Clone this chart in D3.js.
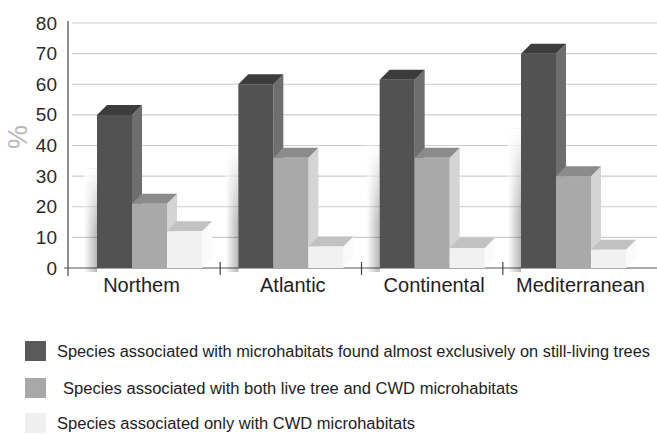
<!DOCTYPE html>
<html>
<head>
<meta charset="utf-8">
<script src="https://cdn.jsdelivr.net/npm/d3@7"></script>
<style>
  html, body { margin: 0; padding: 0; background: #fff; }
  svg { display: block; font-family: "Liberation Sans", Arial, sans-serif; }
</style>
</head>
<body>
<svg id="chart" width="657" height="434"></svg>
<script>
const categories = ["Northern", "Atlantic", "Continental", "Mediterranean"];
const categoryLabels = ["Northem", "Atlantic", "Continental", "Mediterranean"];
const seriesNames = [
  "Species associated with microhabitats found almost exclusively on still-living trees",
  "Species associated with both live tree and CWD microhabitats",
  "Species associated only with CWD microhabitats"
];
const liveTrees = [50, 60, 61.5, 70];
const bothLiveAndCWD = [21, 36, 36, 30];
const onlyCWD = [12, 7, 6.5, 6];
const yTicks = [0, 10, 20, 30, 40, 50, 60, 70, 80];

const seriesValues = [liveTrees, bothLiveAndCWD, onlyCWD];
const seriesKeys = ["live", "both", "cwd"];
const colors = {
  live: { front: "#525252", top: "#3c3c3c", side: "#6e6e6e", legend: "#5a5a5a" },
  both: { front: "#a9a9a9", top: "#8b8b8b", side: "#d4d4d4", legend: "#a8a8a8" },
  cwd:  { front: "#f1f1f1", top: "#c2c2c2", side: "#fbfbfb", legend: "#efefef" }
};
// layout: horizontal nudge of each category label relative to its group centre
const labelNudge = [-10, 0, 0, 5];

const svg = d3.select("#chart");
const defs = svg.append("defs");
const hg = defs.append("linearGradient").attr("id", "shadeH")
  .attr("x1", 0).attr("x2", 1).attr("y1", 0).attr("y2", 0);
hg.append("stop").attr("offset", "0%").attr("stop-color", "#000").attr("stop-opacity", 0);
hg.append("stop").attr("offset", "100%").attr("stop-color", "#000").attr("stop-opacity", 0.28);
const vg = defs.append("linearGradient").attr("id", "shadeV")
  .attr("x1", 0).attr("x2", 0).attr("y1", 0).attr("y2", 1);
vg.append("stop").attr("offset", "0%").attr("stop-color", "#fff").attr("stop-opacity", 1);
vg.append("stop").attr("offset", "100%").attr("stop-color", "#fff").attr("stop-opacity", 0);

const y = d3.scaleLinear().domain([0, 80]).range([268, 23]);
const x0 = d3.scaleBand().domain(categories).range([97, 626]).paddingInner(0.257).paddingOuter(0);
const x1 = d3.scaleBand().domain(seriesKeys).range([0, x0.bandwidth()]).padding(0);
const dx = 10, dy = 10;

// gridlines
svg.append("g").selectAll("line").data(yTicks.filter(t => t > 0)).join("line")
  .attr("x1", 72).attr("x2", 657)
  .attr("y1", d => y(d)).attr("y2", d => y(d))
  .attr("stroke", "#cdcdcd").attr("stroke-width", 1.2);

// y axis
const yAxis = svg.append("g").attr("transform", "translate(68,0)")
  .call(d3.axisLeft(y).tickValues(yTicks).tickSize(0).tickPadding(11));
yAxis.select(".domain").remove();
yAxis.selectAll("text").attr("font-size", 19).attr("fill", "#2a2a2a")
  .attr("font-family", "'Liberation Sans', Arial, sans-serif");
svg.append("line").attr("x1", 68).attr("x2", 68).attr("y1", 21).attr("y2", 276)
  .attr("stroke", "#444").attr("stroke-width", 1.2);

// baseline
svg.append("line").attr("x1", 64).attr("x2", 657).attr("y1", y(0)).attr("y2", y(0))
  .attr("stroke", "#555").attr("stroke-width", 1.2);
// category separator ticks
const sepX = categories.slice(1).map((c, i) => (x0(categories[i]) + x0.bandwidth() + x0(c)) / 2);
svg.append("g").selectAll("line").data(sepX).join("line")
  .attr("x1", d => d).attr("x2", d => d).attr("y1", y(0) - 6).attr("y2", y(0) + 7)
  .attr("stroke", "#444").attr("stroke-width", 1.2);

// y label
svg.append("text").attr("transform", "translate(27,137) rotate(-90)")
  .attr("text-anchor", "middle").attr("font-size", 27).attr("fill", "#b8b8b8").text("%");

// soft shadow to the left of each dark bar (gradient based)
const shadowG = svg.append("g");
categories.forEach((cat, ci) => {
  const v = liveTrees[ci];
  const bx = x0(cat) + x1("live");
  const top = y(v) + (y(0) - y(v)) * 0.35, bot = y(0) + 4;
  shadowG.append("rect").attr("x", bx - 13).attr("y", top).attr("width", 13).attr("height", bot - top)
    .attr("fill", "url(#shadeH)");
  shadowG.append("rect").attr("x", bx - 13).attr("y", top).attr("width", 13).attr("height", (bot - top) * 0.6)
    .attr("fill", "url(#shadeV)");
});

// bars
const groups = svg.append("g").selectAll("g").data(categories).join("g")
  .attr("transform", d => `translate(${x0(d)},0)`);

groups.each(function(cat, ci) {
  const g = d3.select(this);
  seriesKeys.forEach((k, si) => {
    const v = seriesValues[si][ci];
    const bx = x1(k), w = x1.bandwidth(), top = y(v), bot = y(0);
    const c = colors[k];
    g.append("polygon")
      .attr("points", [[bx + w, top], [bx + w + dx, top - dy], [bx + w + dx, bot - dy], [bx + w, bot]].join(" "))
      .attr("fill", c.side);
    g.append("polygon")
      .attr("points", [[bx, top], [bx + dx, top - dy], [bx + w + dx, top - dy], [bx + w, top]].join(" "))
      .attr("fill", c.top);
    g.append("rect").attr("x", bx).attr("y", top).attr("width", w).attr("height", bot - top)
      .attr("fill", c.front);
  });
});

// category labels
svg.append("g").selectAll("text").data(categories).join("text")
  .attr("x", (d, i) => x0(d) + x0.bandwidth() / 2 + 2 + labelNudge[i])
  .attr("y", 292)
  .attr("text-anchor", "middle").attr("font-size", 20).attr("fill", "#1e1e1e")
  .text((d, i) => categoryLabels[i]);

// legend
const legendY = [341, 378, 413];
const legendTextX = [57, 63, 57];
const legendTextLen = [593, 455, 358];
const lg = svg.append("g").selectAll("g").data(seriesKeys).join("g");
lg.append("rect").attr("x", 25).attr("y", (d, i) => legendY[i]).attr("width", 21).attr("height", 20)
  .attr("fill", d => colors[d].legend);
lg.append("text").attr("x", (d, i) => legendTextX[i]).attr("y", (d, i) => legendY[i] + 16)
  .attr("font-size", 16).attr("fill", "#222")
  .attr("textLength", (d, i) => legendTextLen[i]).attr("lengthAdjust", "spacingAndGlyphs")
  .text((d, i) => seriesNames[i]);
</script>
</body>
</html>
